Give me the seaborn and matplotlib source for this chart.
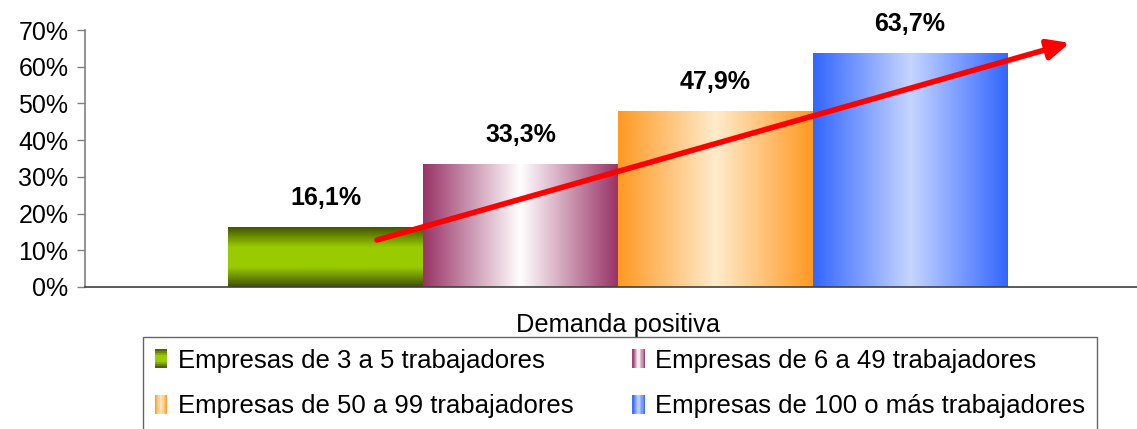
import numpy as np
import pandas as pd
import matplotlib
matplotlib.use("Agg")
import matplotlib.pyplot as plt
import seaborn as sns
from matplotlib.colors import LinearSegmentedColormap
from matplotlib.legend_handler import HandlerBase
from matplotlib.patches import Rectangle, Patch

# data
categoria = ["Demanda positiva"]
grupos = ["Empresas de 3 a 5 trabajadores", "Empresas de 6 a 49 trabajadores",
          "Empresas de 50 a 99 trabajadores", "Empresas de 100 o más trabajadores"]
valores = [16.1, 33.3, 47.9, 63.7]
etiquetas = ["16,1%", "33,3%", "47,9%", "63,7%"]

# gradients (edge -> centre -> edge)
grad_colors = [
    ["#3f5000", "#99cc00", "#99cc00", "#435400"],
    ["#993366", "#ffffff", "#993366"],
    ["#ff9922", "#ffebcc", "#ff9922"],
    ["#3366ff", "#c6d5ff", "#3366ff"],
]
vertical = [True, False, False, False]
cmaps = [LinearSegmentedColormap.from_list(f"g{i}", c) for i, c in enumerate(grad_colors)]

sns.set_style("white")
plt.rcParams["font.family"] = ["Liberation Sans", "DejaVu Sans"]
plt.rcParams["text.color"] = "black"
plt.rcParams["xtick.color"] = "black"
plt.rcParams["ytick.color"] = "black"

df = pd.DataFrame({"cat": categoria * len(grupos), "grupo": grupos, "valor": valores})

fig = plt.figure(figsize=(11.37, 4.29), dpi=100)
ax = fig.add_axes([85 / 1137, 142 / 429, 1 - 85 / 1137, 257 / 429])

sns.barplot(data=df, x="cat", y="valor", hue="grupo", hue_order=grupos,
            dodge=True, width=0.8, legend=False, ax=ax, saturation=1)

bars = [p for p in ax.patches if isinstance(p, Rectangle)][:len(grupos)]
bars = sorted(bars, key=lambda p: p.get_x())
grad = np.linspace(0, 1, 256)
for p, cm, vert, lab in zip(bars, cmaps, vertical, etiquetas):
    x0, w, h = p.get_x(), p.get_width(), p.get_height()
    img = grad.reshape(-1, 1) if vert else grad.reshape(1, -1)
    ax.imshow(img, cmap=cm, extent=[x0, x0 + w, 0, h], aspect="auto",
              origin="lower", zorder=2, interpolation="bicubic")
    p.set_facecolor("none")
    p.set_edgecolor("none")
    ax.text(x0 + w / 2, h + 4.8, lab, ha="center", va="bottom", color="black",
            fontsize=18, fontweight="bold", zorder=5)

ax.set_xlim(-(618 - 85) / 973.75, (1137 - 618) / 973.75)
ax.set_ylim(0, 70)
ax.set_yticks(range(0, 71, 10))
ax.set_yticklabels([f"{v}%" for v in range(0, 71, 10)], fontsize=18)
ax.tick_params(axis="y", length=6, width=1, color="#808080", labelcolor="black",
               pad=6, left=True)
ax.tick_params(axis="x", length=0, pad=19, labelsize=18.3, labelcolor="black")
ax.set_xlabel("")
ax.set_ylabel("")
for s in ["top", "right"]:
    ax.spines[s].set_visible(False)
ax.spines["left"].set_color("#808080")
ax.spines["bottom"].set_color("#404040")
ax.spines["left"].set_linewidth(1.2)
ax.spines["bottom"].set_linewidth(1.2)

# trend arrow
ax.annotate("", xy=(0.464, 66.5), xytext=(-0.2475, 12.8),
            arrowprops=dict(arrowstyle="-|>,head_length=1.3,head_width=0.6",
                            color="#ff0000", lw=4, shrinkA=0, shrinkB=0),
            zorder=6)


class GradHandler(HandlerBase):
    def __init__(self, cmap, vert):
        super().__init__()
        self.cmap = cmap
        self.vert = vert

    def create_artists(self, legend, orig_handle, xdescent, ydescent,
                       width, height, fontsize, trans):
        n = 10
        arts = []
        for i in range(n):
            c = self.cmap((i + 0.5) / n)
            if self.vert:
                r = Rectangle((-xdescent, -ydescent + height * i / n), width, height / n,
                              facecolor=c, edgecolor="none", transform=trans)
            else:
                r = Rectangle((-xdescent + width * i / n, -ydescent), width / n, height,
                              facecolor=c, edgecolor="none", transform=trans)
            arts.append(r)
        return arts


handles = [Patch(label=g) for g in grupos]
hmap = {h: GradHandler(cm, v) for h, cm, v in zip(handles, cmaps, vertical)}
orden = [0, 2, 1, 3]  # row-wise order in a two-column legend
leg = fig.legend(handles=[handles[i] for i in orden], labels=[grupos[i] for i in orden],
                 handler_map=hmap, ncol=2, loc="upper left", mode="expand",
                 bbox_to_anchor=(143 / 1137, 0, (1097 - 143) / 1137, 1 - 337 / 429),
                 fontsize=18.5, frameon=True, fancybox=False, handlelength=0.5,
                 handleheight=0.75, handletextpad=0.4, labelspacing=0.85,
                 borderpad=0.45, borderaxespad=0)
leg.get_frame().set_edgecolor("#404040")
leg.get_frame().set_linewidth(1)
for t in leg.get_texts():
    t.set_color("black")

fig.savefig("out.png", dpi=100)
